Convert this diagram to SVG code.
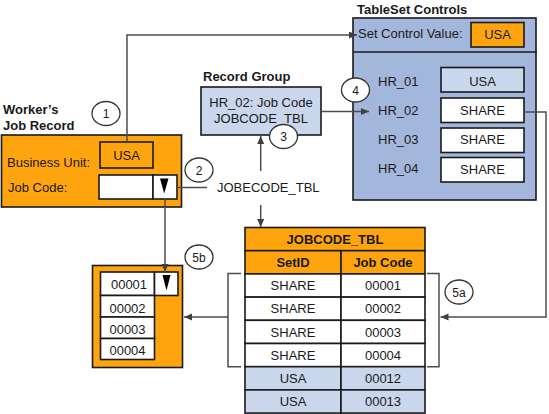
<svg xmlns="http://www.w3.org/2000/svg" width="549" height="414" viewBox="0 0 549 414">
<defs>
<style>
text{font-family:"Liberation Sans",Arial,sans-serif;font-size:13px;fill:#1a1a1a}
.b{font-weight:bold}
.m{text-anchor:middle}
.n{font-size:12px;text-anchor:middle}
.box{stroke:#1a1a1a;stroke-width:1.6}
.or{fill:#FDA40F}
.lb{fill:#C9D6EC}
.wh{fill:#ffffff}
.ts{fill:#A3B6DB}
.c{fill:#ffffff;stroke:#333;stroke-width:1.3}
.cn{fill:none;stroke:#4d4d4d;stroke-width:1.5}
</style>
<marker id="ah" markerWidth="9" markerHeight="8" refX="8" refY="3.5" orient="auto" markerUnits="userSpaceOnUse">
<path d="M0,0 L8,3.5 L0,7 z" fill="#404040"/>
</marker>
</defs>
<rect width="549" height="414" fill="#ffffff"/>

<g id="worker-job-record">
<text class="b" x="3" y="114">Worker’s</text>
<text class="b" x="3" y="130">Job Record</text>
<rect class="box or" x="1.5" y="135" width="180" height="72"/>
<rect class="box or" x="100" y="142" width="53" height="26"/>
<text class="m" x="126.5" y="160">USA</text>
<text x="7" y="167">Business Unit:</text>
<text x="8" y="192">Job Code:</text>
<rect class="box wh" x="99" y="175" width="54" height="24"/>
<rect class="box wh" x="153" y="175" width="24" height="24"/>
<polygon points="160,178.5 168.5,178.5 164.2,193.5" fill="#000"/>
</g>

<g id="record-group">
<text class="b" x="203" y="81">Record Group</text>
<rect class="box lb" x="201" y="87" width="120" height="48"/>
<text class="m" x="261" y="107">HR_02: Job Code</text>
<text class="m" x="261" y="123">JOBCODE_TBL</text>
</g>

<g id="jobecode-label">
<text x="217" y="192">JOBECODE_TBL</text>
</g>

<g id="tableset-controls">
<text class="b" x="357" y="14">TableSet Controls</text>
<rect class="box ts" x="353" y="18" width="183" height="182"/>
<line x1="353" y1="52" x2="537" y2="52" stroke="#1a1a1a" stroke-width="1.6"/>
<text x="358" y="38">Set Control Value:</text>
<rect class="box or" x="471" y="22.5" width="53" height="24.5"/>
<text class="m" x="497.5" y="39">USA</text>
<text x="378" y="86">HR_01</text>
<text x="378" y="115">HR_02</text>
<text x="378" y="144">HR_03</text>
<text x="378" y="173">HR_04</text>
<rect class="box lb" x="441" y="67.5" width="83" height="24.5"/>
<rect class="box wh" x="441" y="98" width="83" height="24.5"/>
<rect class="box wh" x="441" y="128" width="83" height="24.5"/>
<rect class="box wh" x="441" y="157.5" width="83" height="24.5"/>
<text class="m" x="482.5" y="86">USA</text>
<text class="m" x="482.5" y="115">SHARE</text>
<text class="m" x="482.5" y="144">SHARE</text>
<text class="m" x="482.5" y="174">SHARE</text>
</g>

<g id="jobcode-tbl">
<rect class="box or" x="245" y="227.5" width="180" height="23.2"/>
<rect class="box or" x="245" y="250.7" width="96" height="23.2"/>
<rect class="box or" x="341" y="250.7" width="84" height="23.2"/>
<rect class="box wh" x="245" y="273.9" width="96" height="23.2"/>
<rect class="box wh" x="341" y="273.9" width="84" height="23.2"/>
<rect class="box wh" x="245" y="297.1" width="96" height="23.2"/>
<rect class="box wh" x="341" y="297.1" width="84" height="23.2"/>
<rect class="box wh" x="245" y="320.3" width="96" height="23.2"/>
<rect class="box wh" x="341" y="320.3" width="84" height="23.2"/>
<rect class="box wh" x="245" y="343.5" width="96" height="23.2"/>
<rect class="box wh" x="341" y="343.5" width="84" height="23.2"/>
<rect class="box lb" x="245" y="366.7" width="96" height="23.2"/>
<rect class="box lb" x="341" y="366.7" width="84" height="23.2"/>
<rect class="box lb" x="245" y="389.9" width="96" height="23.2"/>
<rect class="box lb" x="341" y="389.9" width="84" height="23.2"/>
<text class="b m" x="335" y="244">JOBCODE_TBL</text>
<text class="b m" x="293" y="267">SetID</text>
<text class="b m" x="383" y="267">Job Code</text>
<text class="m" x="293" y="290">SHARE</text><text class="m" x="383" y="290">00001</text>
<text class="m" x="293" y="313">SHARE</text><text class="m" x="383" y="313">00002</text>
<text class="m" x="293" y="336.5">SHARE</text><text class="m" x="383" y="336.5">00003</text>
<text class="m" x="293" y="359.5">SHARE</text><text class="m" x="383" y="359.5">00004</text>
<text class="m" x="293" y="383">USA</text><text class="m" x="383" y="383">00012</text>
<text class="m" x="293" y="406">USA</text><text class="m" x="383" y="406">00013</text>
</g>

<g id="jobcode-list">
<rect class="box or" x="92.5" y="265.5" width="90" height="102"/>
<rect class="box wh" x="100.5" y="272" width="54" height="23.5"/>
<rect class="box wh" x="154.5" y="272" width="23.5" height="23.5"/>
<polygon points="162.5,275 170.5,275 166.5,290.5" fill="#000"/>
<rect class="box wh" x="100.5" y="295.5" width="54" height="21.5"/>
<rect class="box wh" x="100.5" y="317" width="54" height="21.5"/>
<rect class="box wh" x="100.5" y="338.5" width="54" height="21"/>
<text class="m" x="129" y="289">00001</text>
<text class="m" x="127.5" y="312.5">00002</text>
<text class="m" x="127.5" y="334">00003</text>
<text class="m" x="127.5" y="355">00004</text>
</g>

<g id="connectors">
<path class="cn" d="M127,142 V35 H357" marker-end="url(#ah)"/>
<path class="cn" d="M177,187.5 H207"/>
<path class="cn" d="M260.7,171 V136" marker-end="url(#ah)"/>
<path class="cn" d="M260.7,205 V227" marker-end="url(#ah)"/>
<path class="cn" d="M321,111.5 H369" marker-end="url(#ah)"/>
<path class="cn" d="M524,112 H546 V317 H440.5" marker-end="url(#ah)"/>
<path class="cn" d="M427,273.5 H439 V366.7 H427"/>
<path class="cn" d="M241,273.5 H228 V366.7 H241"/>
<path class="cn" d="M228,317 H184" marker-end="url(#ah)"/>
<path class="cn" d="M165,199 V272" marker-end="url(#ah)"/>
</g>

<g id="step-1"><ellipse class="c" cx="106" cy="113.5" rx="14" ry="12"/><text class="n" x="106" y="118">1</text></g>
<g id="step-2"><ellipse class="c" cx="199" cy="170" rx="14" ry="12"/><text class="n" x="199" y="174.5">2</text></g>
<g id="step-3"><ellipse class="c" cx="283.5" cy="136.5" rx="14" ry="12"/><text class="n" x="283.5" y="141">3</text></g>
<g id="step-4"><ellipse class="c" cx="355.5" cy="90" rx="14" ry="12"/><text class="n" x="355.5" y="94.5">4</text></g>
<g id="step-5a"><ellipse class="c" cx="459" cy="292" rx="14" ry="12"/><text class="n" x="459" y="296.5">5a</text></g>
<g id="step-5b"><ellipse class="c" cx="199" cy="257" rx="14" ry="12"/><text class="n" x="199" y="261.5">5b</text></g>
</svg>
